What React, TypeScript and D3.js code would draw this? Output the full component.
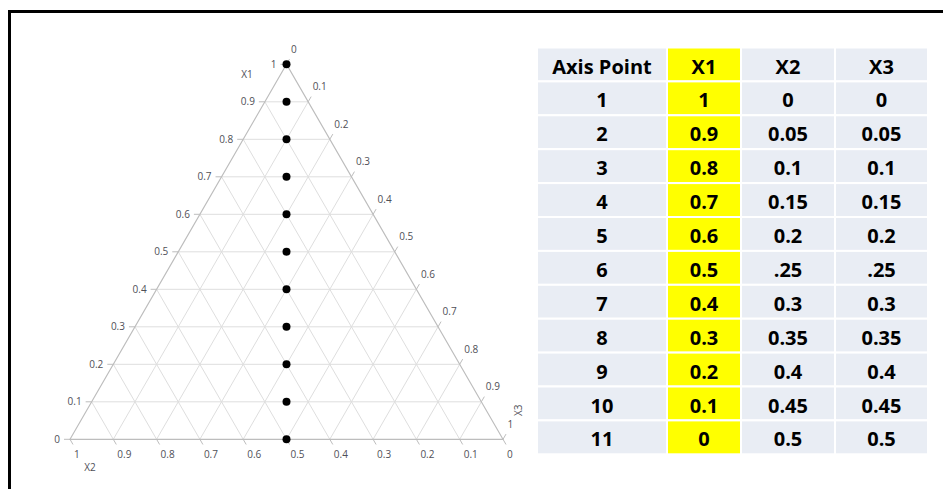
import React from "react";
import * as d3 from "d3";

// ---- data ----
const axisPoints = ["1", "2", "3", "4", "5", "6", "7", "8", "9", "10", "11"];
const x1Values = [1, 0.9, 0.8, 0.7, 0.6, 0.5, 0.4, 0.3, 0.2, 0.1, 0];
const x2Values = [0, 0.05, 0.1, 0.15, 0.2, 0.25, 0.3, 0.35, 0.4, 0.45, 0.5];
const x3Values = [0, 0.05, 0.1, 0.15, 0.2, 0.25, 0.3, 0.35, 0.4, 0.45, 0.5];
const x1Text = ["1", "0.9", "0.8", "0.7", "0.6", "0.5", "0.4", "0.3", "0.2", "0.1", "0"];
const x2Text = ["0", "0.05", "0.1", "0.15", "0.2", ".25", "0.3", "0.35", "0.4", "0.45", "0.5"];
const x3Text = ["0", "0.05", "0.1", "0.15", "0.2", ".25", "0.3", "0.35", "0.4", "0.45", "0.5"];
const headers = ["Axis Point", "X1", "X2", "X3"];
const tickValues = [0, 0.1, 0.2, 0.3, 0.4, 0.5, 0.6, 0.7, 0.8, 0.9, 1];
const tickLabels = ["0", "0.1", "0.2", "0.3", "0.4", "0.5", "0.6", "0.7", "0.8", "0.9", "1"];
const axisTitles = ["X1", "X2", "X3"];

// ---- layout ----
const W = 943, H = 489;
const triLeft = 70, triRight = 503, triBottom = 439.3;
const side = triRight - triLeft;
const triTop = triBottom - side * Math.sqrt(3) / 2;

const baseScale = d3.scaleLinear().domain([0, 1]).range([triLeft, triRight]);
const heightScale = d3.scaleLinear().domain([0, 1]).range([triBottom, triTop]);

const Ap = { x: baseScale(0.5), y: heightScale(1) };
const Lp = { x: baseScale(0), y: heightScale(0) };
const Rp = { x: baseScale(1), y: heightScale(0) };

function P(a: number, b: number, c: number) {
  return { x: a * Ap.x + b * Lp.x + c * Rp.x, y: a * Ap.y + b * Lp.y + c * Rp.y };
}

const tickLen = 6;
const gridColor = "#dedede";
const edgeColor = "#bdbdbd";
const labelColor = "#4f4f57";
const labelFont = "'Open Sans', sans-serif";

// table layout
const tableX = [537, 667, 741, 835, 928];
const tableTop = 47.5;
const rowH = 33.9;
const nRows = axisPoints.length + 1;
const rowScale = d3.scaleLinear().domain([0, nRows]).range([tableTop, tableTop + rowH * nRows]);

export default function App() {
  const inner = tickValues.slice(1, -1);
  const lineGen = d3.line<{ x: number; y: number }>().x(d => d.x).y(d => d.y);

  const grid: string[] = [];
  inner.forEach(v => {
    grid.push(lineGen([P(v, 1 - v, 0), P(v, 0, 1 - v)])!);
    grid.push(lineGen([P(0, v, 1 - v), P(1 - v, v, 0)])!);
    grid.push(lineGen([P(0, 1 - v, v), P(1 - v, 0, v)])!);
  });

  const rows = axisPoints.map((p, i) => [p, x1Text[i], x2Text[i], x3Text[i]]);

  return (
    <svg width={W} height={H} style={{ position: "absolute", left: 0, top: 0 }} xmlns="http://www.w3.org/2000/svg">
      <rect x={0} y={0} width={W} height={H} fill="#fff" />
      {/* frame */}
      <rect x={9.5} y={11.5} width={W + 20} height={H + 20} fill="none" stroke="#000" strokeWidth={3} />

      {/* grid */}
      {grid.map((d, i) => (
        <path key={i} d={d} stroke={gridColor} strokeWidth={1} fill="none" />
      ))}
      {/* triangle */}
      <path d={lineGen([Ap, Lp, Rp, Ap])! + "Z"} stroke={edgeColor} strokeWidth={1.2} fill="none" />

      {/* left axis X1 */}
      {tickValues.map((v, i) => {
        const p = P(v, 1 - v, 0);
        return (
          <g key={"l" + i}>
            <line x1={p.x} y1={p.y} x2={p.x - tickLen} y2={p.y} stroke={edgeColor} />
            <text x={p.x - tickLen - 4} y={p.y} dy="0.35em" textAnchor="end" fontSize={10} fontFamily={labelFont} fill={labelColor}>
              {tickLabels[i]}
            </text>
          </g>
        );
      })}
      {/* bottom axis X2 */}
      {tickValues.map((v, i) => {
        const p = P(0, v, 1 - v);
        return (
          <g key={"b" + i}>
            <line x1={p.x} y1={p.y} x2={p.x + tickLen * 0.5} y2={p.y + tickLen * 0.866} stroke={edgeColor} />
            <text x={p.x + 4} y={p.y + 19} textAnchor="start" fontSize={10} fontFamily={labelFont} fill={labelColor}>
              {tickLabels[i]}
            </text>
          </g>
        );
      })}
      {/* right axis X3 */}
      {tickValues.map((v, i) => {
        const p = P(1 - v, 0, v);
        const ex = p.x + tickLen * 0.5, ey = p.y - tickLen * 0.866;
        return (
          <g key={"r" + i}>
            <line x1={p.x} y1={p.y} x2={ex} y2={ey} stroke={edgeColor} />
            <text x={ex + 1.5} y={ey - 6.5} textAnchor="start" fontSize={10} fontFamily={labelFont} fill={labelColor}>
              {tickLabels[i]}
            </text>
          </g>
        );
      })}
      {/* axis titles */}
      <text x={Ap.x - 39.5} y={Ap.y + 10} dy="0.35em" textAnchor="middle" fontSize={10} fontFamily={labelFont} fill={labelColor}>{axisTitles[0]}</text>
      <text x={Lp.x + 20} y={Lp.y + 28} dy="0.35em" textAnchor="middle" fontSize={10} fontFamily={labelFont} fill={labelColor}>{axisTitles[1]}</text>
      <text transform={`translate(${Rp.x + 15},${Rp.y - 29}) rotate(-90)`} dy="0.35em" textAnchor="middle" fontSize={10} fontFamily={labelFont} fill={labelColor}>{axisTitles[2]}</text>

      {/* points */}
      {x1Values.map((v, i) => {
        const p = P(v, x2Values[i], x3Values[i]);
        return <circle key={"pt" + i} cx={p.x} cy={p.y} r={4} fill="#000" />;
      })}

      {/* table */}
      {[headers, ...rows].map((row, r) =>
        row.map((cell, c) => {
          const x0 = tableX[c], x1 = tableX[c + 1];
          const y0 = rowScale(r), y1 = rowScale(r + 1);
          return (
            <g key={`c${r}-${c}`}>
              <rect x={x0} y={y0} width={x1 - x0} height={y1 - y0} fill={c === 1 ? "#ffff00" : "#e9edf4"} stroke="#fff" strokeWidth={2} />
              <text x={(x0 + x1) / 2} y={y0 + 26} textAnchor="middle" fontSize={20} fontWeight={700} fontFamily={labelFont} fill="#000">
                {cell}
              </text>
            </g>
          );
        })
      )}
    </svg>
  );
}
